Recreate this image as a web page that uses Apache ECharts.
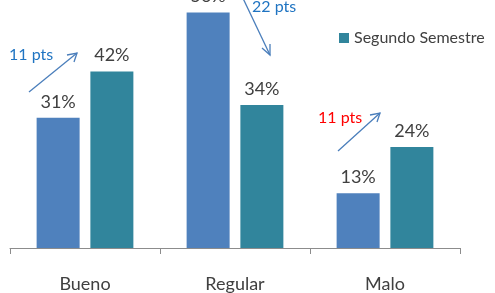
<!DOCTYPE html>
<html>
<head>
<meta charset="utf-8">
<script src="https://cdn.jsdelivr.net/npm/echarts@6/dist/echarts.min.js"></script>
<style>
html, body { margin: 0; padding: 0; background: #fff; }
#chart { width: 495px; height: 293px; }
</style>
</head>
<body>
<div id="chart"></div>
<script>
var categories = ['Bueno', 'Regular', 'Malo'];
var seriesNames = ['Primer Semestre', 'Segundo Semestre'];
var primer = [31, 56, 13];
var segundo = [42, 34, 24];

var dom = document.getElementById("chart");
var myChart = echarts.init(dom);
var font = 'Lato, "Open Sans", sans-serif';

var labelStyle = {
    show: true,
    position: 'top',
    distance: 7,
    formatter: '{c}%',
    color: '#404040',
    fontSize: 18,
    fontFamily: font
};

var option = {
    animation: false,
    grid: { left: 10, right: 35, top: 0, bottom: 44 },
    legend: {
        orient: 'vertical',
        left: 334,
        top: -19,
        itemWidth: 10,
        itemHeight: 10,
        itemGap: 28,
        itemStyle: { borderWidth: 0 },
        icon: 'rect',
        textStyle: { color: '#404040', fontSize: 16, fontFamily: font },
        data: seriesNames
    },
    xAxis: {
        type: 'category',
        data: categories,
        axisLine: { lineStyle: { color: '#8c8c8c', width: 1 } },
        axisTick: { show: true, length: 6, lineStyle: { color: '#8c8c8c' } },
        axisLabel: { color: '#404040', fontSize: 18, fontFamily: font, margin: 27 }
    },
    yAxis: {
        type: 'value',
        min: 0,
        max: 59,
        show: false
    },
    series: [
        {
            name: seriesNames[0],
            type: 'bar',
            data: primer,
            barWidth: 43,
            barGap: '25%',
            itemStyle: { color: '#4F81BD' },
            label: labelStyle
        },
        {
            name: seriesNames[1],
            type: 'bar',
            data: segundo,
            barWidth: 43,
            barGap: '25%',
            itemStyle: { color: '#31859C' },
            label: labelStyle
        }
    ],
    graphic: [
        // arrows and notes
        { type: 'line', shape: { x1: 29, y1: 92, x2: 77, y2: 53 }, style: { stroke: '#4A7EBB', lineWidth: 1.3 } },
        { type: 'polyline', shape: { points: [[67, 55], [77, 53], [74, 62]] }, style: { stroke: '#4A7EBB', lineWidth: 1.3, fill: null } },
        { type: 'text', left: 9, top: 47, style: { text: '11 pts', fill: '#1F74C2', fontSize: 16, fontFamily: font } },

        { type: 'line', shape: { x1: 240, y1: -8, x2: 270, y2: 55 }, style: { stroke: '#4A7EBB', lineWidth: 1.3 } },
        { type: 'polyline', shape: { points: [[262, 48], [270, 55], [270, 44]] }, style: { stroke: '#4A7EBB', lineWidth: 1.3, fill: null } },
        { type: 'text', left: 252, top: -1, style: { text: '22 pts', fill: '#1F74C2', fontSize: 16, fontFamily: font } },

        { type: 'line', shape: { x1: 338, y1: 151, x2: 380, y2: 113 }, style: { stroke: '#4A7EBB', lineWidth: 1.3 } },
        { type: 'polyline', shape: { points: [[370, 115], [380, 113], [377, 122]] }, style: { stroke: '#4A7EBB', lineWidth: 1.3, fill: null } },
        { type: 'text', left: 318, top: 110, style: { text: '11 pts', fill: '#FF0000', fontSize: 16, fontFamily: font } }
    ]
};
if (option && typeof option === "object") {
    myChart.setOption(option, true);
}
</script>
</body>
</html>
